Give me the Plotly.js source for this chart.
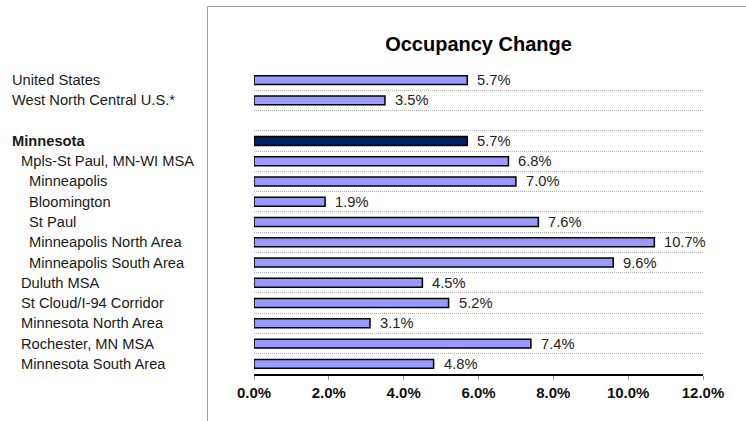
<!DOCTYPE html>
<html>
<head>
<meta charset="utf-8">
<script src="https://cdn.plot.ly/plotly-3.0.1.min.js"></script>
<style>html,body{margin:0;padding:0;background:#fff;}#chart{width:746px;height:421px;}</style>
</head>
<body>
<div id="chart"></div>
<script>
// ---- data ----
var categories = [
  "United States",
  "West North Central U.S.*",
  "",
  "Minnesota",
  "Mpls-St Paul, MN-WI MSA",
  "Minneapolis",
  "Bloomington",
  "St Paul",
  "Minneapolis North Area",
  "Minneapolis South Area",
  "Duluth MSA",
  "St Cloud/I-94 Corridor",
  "Minnesota North Area",
  "Rochester, MN MSA",
  "Minnesota South Area"
];
var indentLevels = [0, 0, 0, 0, 1, 2, 2, 2, 2, 2, 1, 1, 1, 1, 1];
var occupancyChange = [5.7, 3.5, null, 5.7, 6.8, 7.0, 1.9, 7.6, 10.7, 9.6, 4.5, 5.2, 3.1, 7.4, 4.8];
var highlighted = "Minnesota";
var xTickVals = [0, 2, 4, 6, 8, 10, 12];
var xTickText = ["0.0%", "2.0%", "4.0%", "6.0%", "8.0%", "10.0%", "12.0%"];
var chartTitle = "Occupancy Change";

// ---- geometry ----
var W = 746, H = 421;
var M = {l: 254, r: 43, t: 70, b: 47};
var PW = W - M.l - M.r, PH = H - M.t - M.b;
function px2x(px) { return (px - M.l) / PW; }
function px2y(py) { return (H - M.b - py) / PH; }
var indentPx = [10, 18.5, 26.5];
var FONT = "Liberation Sans, Arial, sans-serif";

var rowIdx = categories.map(function (c, i) { return i; });
var barColors = categories.map(function (c) { return c === highlighted ? "#00205F" : "#9999FF"; });
var boundaries = [];
for (var i = 0; i < categories.length - 1; i++) boundaries.push(i + 0.5);

var trace = {
  type: "bar",
  orientation: "h",
  x: occupancyChange,
  y: rowIdx,
  width: 0.44,
  marker: {color: barColors, line: {color: "#000000", width: 1.5}},
  hoverinfo: "none"
};

var annotations = [];
categories.forEach(function (c, i) {
  if (c) {
    annotations.push({
      xref: "paper", yref: "y", x: px2x(indentPx[indentLevels[i]]), y: i,
      xanchor: "left", yanchor: "middle", showarrow: false,
      text: c === highlighted ? "<b>" + c + "</b>" : c,
      font: {family: FONT, size: 14.7, color: "#1a1a1a"}
    });
  }
  if (occupancyChange[i] !== null) {
    annotations.push({
      xref: "x", yref: "y", x: occupancyChange[i], y: i,
      xanchor: "left", yanchor: "middle", showarrow: false, xshift: 8,
      text: occupancyChange[i].toFixed(1) + "%",
      font: {family: FONT, size: 14.7, color: "#222"}
    });
  }
});

var layout = {
  width: W, height: H,
  margin: M,
  paper_bgcolor: "#fff", plot_bgcolor: "#fff",
  showlegend: false,
  title: {
    text: "<b>" + chartTitle + "</b>",
    x: 478.5 / W, xanchor: "center",
    y: 1 - 43.5 / H, yanchor: "middle",
    font: {family: FONT, size: 20, color: "#000"}
  },
  xaxis: {
    range: [0, 12], tickvals: xTickVals, ticktext: xTickText,
    showgrid: false, zeroline: false,
    showline: true, linecolor: "#000", linewidth: 1.5,
    ticks: "outside", ticklen: 4, tickcolor: "#999", tickwidth: 1,
    tickfont: {family: FONT, size: 15, color: "#111", weight: "bold"},
    fixedrange: true
  },
  yaxis: {
    range: [categories.length - 0.5, -0.5],
    tickvals: boundaries, showticklabels: false, ticks: "",
    showgrid: true, gridcolor: "#b0b0b0", gridwidth: 1, griddash: "1px,1px",
    zeroline: false, showline: false, fixedrange: true
  },
  annotations: annotations,
  shapes: [
    {type: "line", xref: "paper", yref: "paper", x0: px2x(207.5), x1: px2x(207.5), y0: px2y(6.5), y1: px2y(H + 5), line: {color: "#a0a0a0", width: 1}},
    {type: "line", xref: "paper", yref: "paper", x0: px2x(207.5), x1: px2x(W + 5), y0: px2y(6.5), y1: px2y(6.5), line: {color: "#a0a0a0", width: 1}}
  ]
};

Plotly.newPlot("chart", [trace], layout, {displayModeBar: false, staticPlot: true});
</script>
</body>
</html>
